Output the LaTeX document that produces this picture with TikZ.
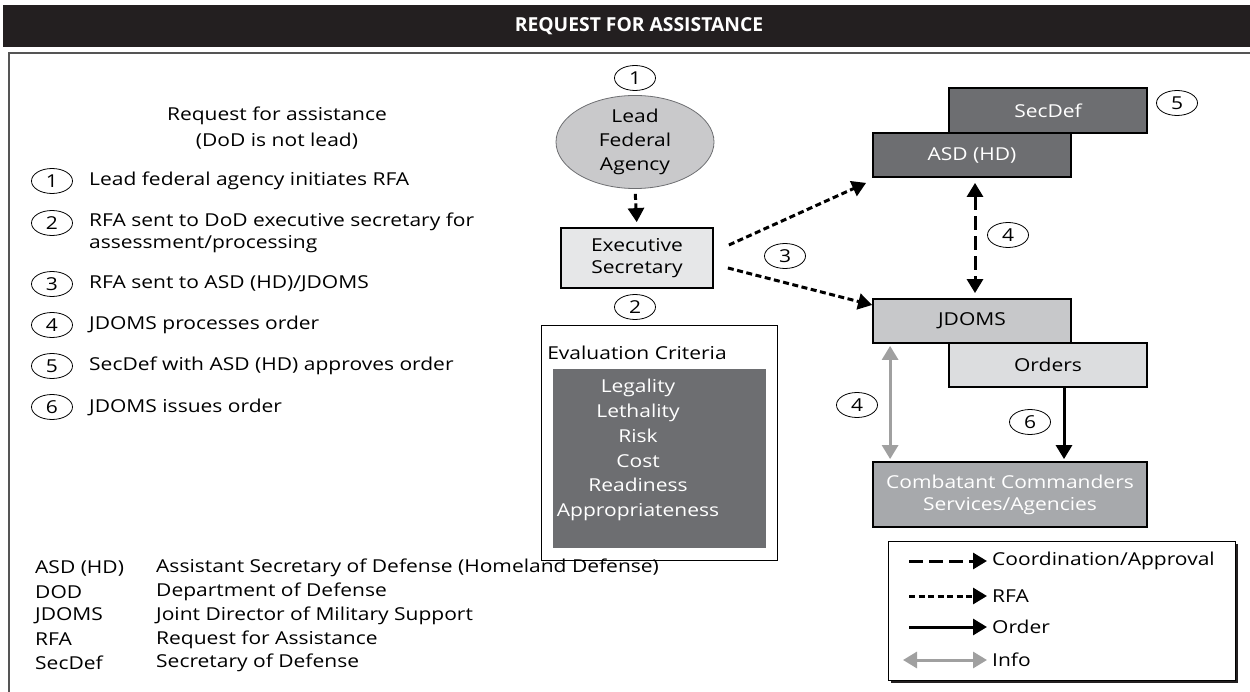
\documentclass[tikz,border=0pt]{standalone}
\usepackage{fontspec}
\setmainfont{Open Sans}[FakeStretch=1.18]
\newfontfamily\titlefont{Open Sans}
\usetikzlibrary{arrows.meta,shapes.geometric}
\definecolor{titlebg}{HTML}{231F20}
\definecolor{dgray}{HTML}{6D6E71}
\definecolor{mgray}{HTML}{A7A9AC}
\definecolor{jgray}{HTML}{C7C8CA}
\definecolor{lgray}{HTML}{DCDDDF}
\definecolor{egray}{HTML}{E6E7E8}
\definecolor{ellgray}{HTML}{C9C9CB}
\definecolor{infogray}{HTML}{A0A0A0}
\definecolor{framecol}{HTML}{555555}
\tikzset{
  txt/.style={font=\fontsize{17.8}{21.5}\selectfont, inner sep=0pt},
  stepnum/.style={ellipse, draw=black, line width=0.8pt, minimum width=41pt, minimum height=25pt, inner sep=0pt, font=\fontsize{17.8}{20}\selectfont},
  orgbox/.style={rectangle, draw=black, line width=1.8pt, minimum width=198pt, minimum height=44pt, inner sep=0pt, font=\fontsize{17.8}{22}\selectfont},
  tip/.style={-{Triangle[length=14pt,width=16pt]}},
  rfa/.style={tip, line width=3pt, dash pattern=on 6pt off 3.5pt},
  coord/.style={line width=3pt, dash pattern=on 14pt off 6pt},
  order/.style={tip, line width=3pt},
  info/.style={{Triangle[length=14pt,width=16pt]}-{Triangle[length=14pt,width=16pt]}, line width=3pt, draw=infogray}
}
\begin{document}
\begin{tikzpicture}[x=1pt,y=-1pt]
\useasboundingbox (0,0) rectangle (1250,692);
% title bar
\node[fill=titlebg, minimum width=1247pt, minimum height=42pt, anchor=north west, inner sep=0pt] (title) at (3,5) {};
\node[text=white, inner sep=0pt, font=\titlefont\bfseries\fontsize{19.3}{21}\selectfont] (titletext) at (639,26) {REQUEST FOR ASSISTANCE};
% frame
\draw[framecol, line width=2pt] (9,692) -- (9,53) -- (1250,53);

% left list
\node[txt, align=center, font=\fontsize{17.8}{26}\selectfont] (hdr) at (277,128) {Request for assistance\\(DoD is not lead)};
\node[stepnum] (l1) at (52,181) {1};
\node[txt, anchor=west] (t1) at (89,181) {Lead federal agency initiates RFA};
\node[stepnum] (l2) at (52,223) {2};
\node[txt, anchor=west, align=left] (t2) at (89,233) {RFA sent to DoD executive secretary for\\assessment/processing};
\node[stepnum] (l3) at (52,284) {3};
\node[txt, anchor=west] (t3) at (89,284) {RFA sent to ASD (HD)/JDOMS};
\node[stepnum] (l4) at (52,325) {4};
\node[txt, anchor=west] (t4) at (89,325) {JDOMS processes order};
\node[stepnum] (l5) at (52,366) {5};
\node[txt, anchor=west] (t5) at (89,366) {SecDef with ASD (HD) approves order};
\node[stepnum] (l6) at (52,407) {6};
\node[txt, anchor=west] (t6) at (89,407) {JDOMS issues order};

% abbreviations
\foreach \a/\d [count=\i from 0] in {ASD (HD)/Assistant Secretary of Defense (Homeland Defense), DOD/Department of Defense, JDOMS/Joint Director of Military Support, RFA/Request for Assistance, SecDef/Secretary of Defense}{
  \node[txt, anchor=west] (ab\i) at (35,568+23.8*\i) {\a};
  \node[txt, anchor=west] (df\i) at (156,568+23.8*\i) {\d};
}

% center
\node[stepnum] (c1) at (635,78) {1};
\node[ellipse, draw=dgray, line width=0.8pt, fill=ellgray, minimum width=158pt, minimum height=80pt, inner sep=0pt, align=center, font=\fontsize{17.8}{24}\selectfont] (lead) at (635,142) {Lead\\Federal\\Agency};
\node[orgbox, fill=egray, minimum width=152pt, minimum height=60pt, align=center] (exec) at (637,258) {Executive\\Secretary};
\node[stepnum] (c2) at (635,307) {2};
\node[stepnum] (c3) at (785,256) {3};

% evaluation criteria
\node[draw=black, line width=0.8pt, minimum width=236pt, minimum height=235pt, anchor=north west, inner sep=0pt] (evalo) at (541,325) {};
\node[fill=dgray, minimum width=213pt, minimum height=179pt, anchor=north west, inner sep=0pt] (evali) at (553,369) {};
\node[txt] (evalt) at (637,353) {Evaluation Criteria};
\node[txt, text=white, align=center, font=\fontsize{17.8}{24.8}\selectfont] (crit) at (638,450) {Legality\\Lethality\\Risk\\Cost\\Readiness\\Appropriateness};

% right
\node[orgbox, fill=dgray, text=white, minimum height=45pt] (secdef) at (1048,110.5) {SecDef};
\node[orgbox, fill=dgray, text=white] (asd) at (972,155) {ASD (HD)};
\node[stepnum] (c5) at (1177,103) {5};
\node[stepnum] (c4a) at (1008,235) {4};
\node[orgbox, fill=jgray] (jdoms) at (972,321) {JDOMS};
\node[orgbox, fill=lgray] (orders) at (1048,365) {Orders};
\node[orgbox, fill=mgray, text=white, minimum width=274pt, minimum height=65pt, align=center] (cmd) at (1010,494.5) {Combatant Commanders\\Services/Agencies};
\node[stepnum] (c4b) at (857,405) {4};
\node[stepnum] (c6) at (1030,422) {6};

% connectors
\draw[rfa, shorten <=5pt, shorten >=5pt] (lead.south) -- (exec.north);
\draw[rfa] ([xshift=15pt,yshift=13pt]exec.east) -- ([xshift=-6pt,yshift=-5pt]asd.south west);
\draw[rfa] ([xshift=14pt,yshift=-10pt]exec.east) -- ([yshift=16pt]jdoms.west);
\draw[coord, {Triangle[length=14pt,width=16pt]}-{Triangle[length=14pt,width=16pt]}, shorten <=5pt, shorten >=5pt] ([xshift=3pt]asd.south) -- ([xshift=3pt]jdoms.north);
\draw[info, shorten <=2pt, shorten >=2pt] ([xshift=18pt]jdoms.south west) -- ([xshift=18pt]cmd.north west);
\draw[order, shorten >=2pt] ([xshift=16pt]orders.south) -- ([xshift=16pt]orders.south |- cmd.north);

% legend
\fill[titlebg] (890.5,543.5) rectangle (1237.5,682.5);
\node[draw=black, fill=white, line width=0.8pt, minimum width=347pt, minimum height=139pt, anchor=north west, inner sep=0pt] (legend) at (888,541) {};
\coordinate (la1) at (909,561); \coordinate (lb1) at (987,561);
\coordinate (la2) at (909,596); \coordinate (lb2) at (987,596);
\coordinate (la3) at (909,627); \coordinate (lb3) at (987,627);
\coordinate (la4) at (903,660); \coordinate (lb4) at (987,660);
\draw[coord, tip] (la1) -- (lb1);
\draw[rfa] (la2) -- (lb2);
\draw[order] (la3) -- (lb3);
\draw[info] (la4) -- (lb4);
\node[txt, anchor=west] (lt1) at (992,561) {Coordination/Approval};
\node[txt, anchor=west] (lt2) at (992,596) {RFA};
\node[txt, anchor=west] (lt3) at (992,627) {Order};
\node[txt, anchor=west] (lt4) at (992,660) {Info};
\end{tikzpicture}
\end{document}
